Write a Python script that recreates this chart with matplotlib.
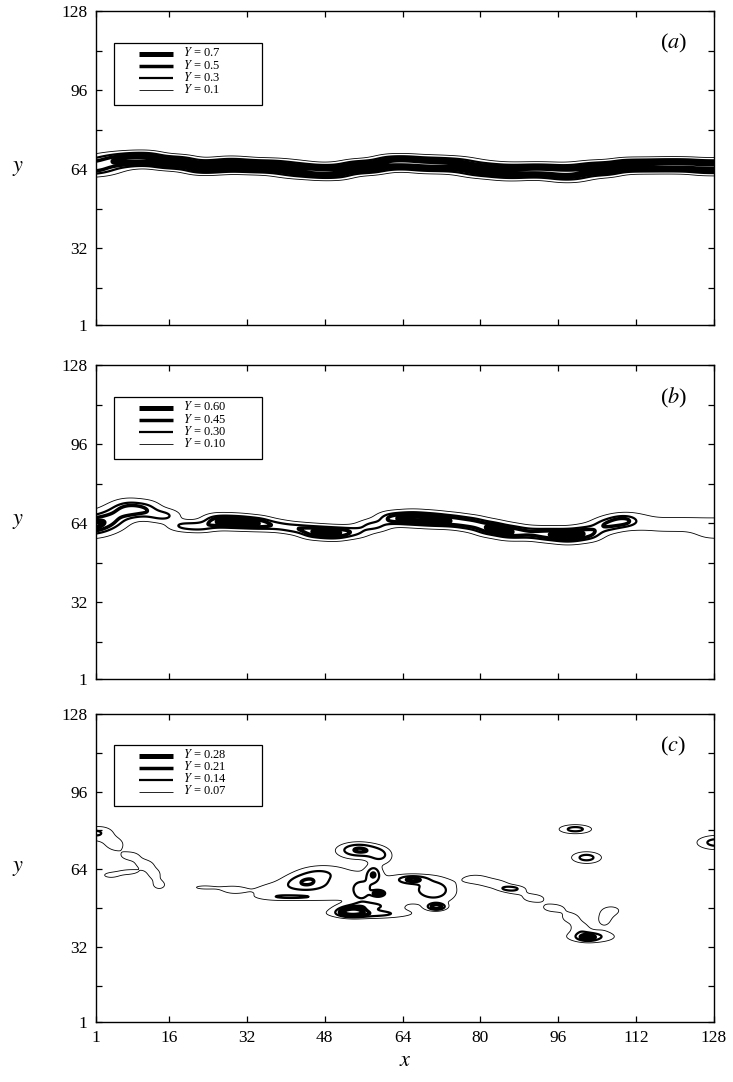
import numpy as np
import matplotlib
matplotlib.use("Agg")
import matplotlib.pyplot as plt
from matplotlib.patches import Rectangle
from matplotlib.lines import Line2D

plt.rcParams["font.family"] = ["Liberation Serif", "DejaVu Serif"]
plt.rcParams["mathtext.fontset"] = "stix"

# ---------------- data ----------------
# (a) mixing layer: centre line, peak value and thickness along x
a_x = [1, 5, 10, 17, 24, 29, 33, 38, 42, 49, 56, 63, 70, 75, 80, 86, 92, 98, 104, 112, 120, 128]
a_y = [64.6, 67.5, 68.2, 66.7, 64.8, 66.0, 65.0, 65.3, 63.5, 63.0, 64.9, 66.7, 66.0, 65.8,
       63.8, 63.0, 63.4, 62.5, 64.2, 65.5, 65.6, 65.0]
a_amp = [0.85, 0.88, 0.85, 0.82, 0.85, 0.86, 0.80, 0.84, 0.86, 0.85, 0.86, 0.88, 0.84, 0.83,
         0.85, 0.80, 0.85, 0.88, 0.84, 0.82, 0.86, 0.84]
a_sig = [2.0, 1.9, 1.8, 1.7, 1.7, 1.8, 1.7, 1.7, 1.8, 1.8, 1.7, 1.8, 1.9, 1.8,
         1.8, 1.9, 1.8, 2.0, 1.8, 1.7, 1.7, 1.8]

# (b) broken-up layer
b_x = [1, 4, 7, 11, 15, 19, 22, 26, 30, 34, 38, 42, 46, 50, 54, 58, 62, 66, 70, 74, 78, 82,
       86, 90, 94, 98, 102, 106, 109, 113, 118, 123, 128]
b_y = [63.0, 65.5, 69.5, 69.5, 67.0, 63.0, 62.5, 64.8, 64.5, 64.0, 63.0, 62.0, 60.5, 60.0,
       60.5, 63.0, 66.0, 66.0, 65.5, 65.0, 64.0, 62.0, 60.5, 60.0, 59.5, 59.0, 60.0, 63.0,
       65.0, 64.0, 63.5, 63.5, 62.0]
b_amp = [0.72, 0.70, 0.68, 0.50, 0.45, 0.40, 0.45, 0.68, 0.70, 0.66, 0.40, 0.45, 0.68, 0.70,
         0.40, 0.45, 0.60, 0.70, 0.68, 0.60, 0.60, 0.70, 0.66, 0.45, 0.60, 0.72, 0.62, 0.55,
         0.70, 0.14, 0.14, 0.14, 0.30]
b_sig = [2.8, 3.0, 2.6, 2.4, 1.8, 1.5, 1.5, 1.9, 1.9, 1.8, 1.6, 1.5, 1.8, 1.8, 1.7, 1.7,
         1.8, 2.0, 2.0, 1.9, 1.9, 2.0, 2.0, 1.8, 1.9, 2.0, 2.1, 2.0, 1.9, 3.4, 3.4, 3.4, 2.8]

# (c) scattered patches: centre, peak value and extent of each patch
c_x = [0.5, 2.0, 5.0, 8.0, 11.0, 13.0, 14.0, 7.5, 4.0, 0.0,                # left edge
       23.0, 29.0, 37.0, 50.0, 64.0, 72.0, 56.0, 47.0,                      # cluster base
       44.0, 42.0, 55.0, 59.5, 55.5, 59.0, 57.0, 53.5, 58.0, 66.0,          # cluster peaks
       71.0, 70.0, 58.0,
       79.0, 83.0, 87.0, 91.0, 95.0, 98.5, 100.5, 86.0,                     # right arm
       102.0, 102.5, 103.0, 105.5, 107.0,
       99.5, 101.8, 107.5,
       128.5]
c_y = [79.0, 78.5, 74.0, 69.5, 66.0, 62.0, 57.5, 62.8, 61.5, 46.5,
       56.5, 55.5, 55.0, 58.0, 55.0, 55.0, 46.0, 62.5,
       58.5, 52.5, 72.0, 69.5, 55.0, 54.0, 49.0, 46.5, 45.5, 59.8,
       48.5, 56.0, 62.0,
       60.0, 58.0, 55.5, 52.0, 48.0, 44.0, 40.0, 56.0,
       35.8, 36.3, 36.0, 43.0, 47.0,
       80.5, 68.8, 64.0,
       75.0]
c_amp = [0.07, 0.10, 0.095, 0.095, 0.095, 0.095, 0.095, 0.09, 0.09, 0.085,
         0.08, 0.085, 0.085, 0.085, 0.085, 0.08, 0.08, 0.07,
         0.15, 0.09, 0.21, 0.12, 0.09, 0.22, 0.09, 0.28, 0.08, 0.16,
         0.22, 0.07, 0.15,
         0.095, 0.095, 0.095, 0.095, 0.095, 0.095, 0.09, 0.08,
         0.14, 0.10, 0.06, 0.085, 0.085,
         0.17, 0.17, 0.07,
         0.17]
c_sx = [1.5, 2.8, 1.5, 2.0, 1.8, 1.3, 1.3, 2.0, 1.6, 1.8,
        2.5, 2.5, 3.5, 7.0, 6.0, 3.0, 6.0, 3.0,
        3.0, 5.0, 3.0, 1.8, 1.5, 0.8, 3.0, 1.8, 5.0, 2.0,
        1.3, 2.5, 1.0,
        2.3, 2.3, 2.3, 2.3, 2.3, 1.8, 1.5, 1.5,
        1.2, 3.2, 5.0, 1.5, 2.0,
        2.5, 2.3, 2.5,
        3.0]
c_sy = [1.3, 3.2, 2.0, 1.8, 1.8, 2.0, 1.8, 1.1, 1.1, 1.0,
        1.0, 1.8, 3.0, 7.0, 6.0, 4.0, 2.0, 2.0,
        2.5, 0.9, 2.2, 2.4, 3.5, 0.8, 1.2, 1.3, 1.0, 1.1,
        1.0, 3.5, 2.3,
        1.7, 1.7, 1.7, 1.7, 1.7, 2.0, 2.0, 0.7,
        0.9, 1.6, 2.5, 2.5, 2.0,
        1.4, 1.8, 1.2,
        2.2]

panel_levels = [[0.1, 0.3, 0.5, 0.7],
                [0.10, 0.30, 0.45, 0.60],
                [0.07, 0.14, 0.21, 0.28]]
panel_keys = [["0.7", "0.5", "0.3", "0.1"],
              ["0.60", "0.45", "0.30", "0.10"],
              ["0.28", "0.21", "0.14", "0.07"]]
panel_tags = ["a", "b", "c"]

# ---------------- fields ----------------
grid = np.linspace(1, 128, 512)
GX, GY = np.meshgrid(grid, grid)


def layer_field(kx, ky, kamp, ksig, s=2.0):
    num = np.zeros_like(GX)
    den = np.zeros_like(GX)
    for x0, y0, amp, sg in zip(kx, ky, kamp, ksig):
        w = np.exp(-(GX - x0) ** 2 / (2 * s * s))
        num += w * amp * np.exp(-(GY - y0) ** 2 / (2 * sg * sg))
        den += w
    return num / den


def patch_field(px, py, pamp, psx, psy):
    f = np.zeros_like(GX)
    for x0, y0, amp, sx, sy in zip(px, py, pamp, psx, psy):
        f += amp * np.exp(-(GX - x0) ** 2 / (2 * sx * sx) - (GY - y0) ** 2 / (2 * sy * sy))
    return f


fields = [layer_field(a_x, a_y, a_amp, a_sig, 3.0),
          layer_field(b_x, b_y, b_amp, b_sig, 2.2),
          patch_field(c_x, c_y, c_amp, c_sx, c_sy)]

# ---------------- figure ----------------
W, H = 733, 1082
fig = plt.figure(figsize=(W / 100, H / 100), dpi=100)
boxes = [(11, 325), (365, 679), (714, 1022)]
line_w = [0.6, 1.6, 2.5, 3.6]          # low -> high level
tick_fs = 12.5

for i, (top, bot) in enumerate(boxes):
    ax = fig.add_axes([96 / W, 1 - bot / H, 618 / W, (bot - top) / H])
    lv = panel_levels[i]
    ax.contour(GX, GY, fields[i], levels=lv, colors="black", linewidths=line_w)
    ax.set_xlim(1, 128)
    ax.set_ylim(1, 128)
    xt = [1, 16, 32, 48, 64, 80, 96, 112, 128]
    ax.set_xticks(xt)
    ax.set_yticks(xt)
    ax.set_yticklabels(["1", "", "32", "", "64", "", "96", "", "128"])
    if i == 2:
        ax.set_xticklabels([str(v) for v in xt])
        ax.set_xlabel(r"$x$", fontsize=16, labelpad=4)
    else:
        ax.set_xticklabels([])
    ax.tick_params(direction="in", length=4, width=0.9, top=True, right=True,
                   labelsize=tick_fs, pad=6)
    for sp in ax.spines.values():
        sp.set_linewidth(1.0)
    ax.text(-0.127, 0.5, r"$y$", transform=ax.transAxes, fontsize=16,
            ha="center", va="center")
    ax.text(0.934, 0.895, "(" + r"$\mathit{" + panel_tags[i] + "}$" + ")",
            transform=ax.transAxes, fontsize=16, ha="center", va="center")

    # level key
    ax.add_patch(Rectangle((0.029, 0.701), 0.2395, 0.197, transform=ax.transAxes,
                           facecolor="white", edgecolor="black", linewidth=0.9, zorder=5))
    hs = panel_keys[i]
    rows = [0.864, 0.825, 0.786, 0.747]
    for k in range(4):
        ax.add_line(Line2D([0.0696, 0.1246], [rows[k]] * 2, transform=ax.transAxes,
                           color="black", linewidth=line_w[3 - k], zorder=6,
                           solid_capstyle="butt"))
        ax.text(0.141, rows[k] + 0.003, r"$Y$ = " + hs[k], transform=ax.transAxes,
                fontsize=9, ha="left", va="center", zorder=6)

fig.savefig("out.png", dpi=100)
